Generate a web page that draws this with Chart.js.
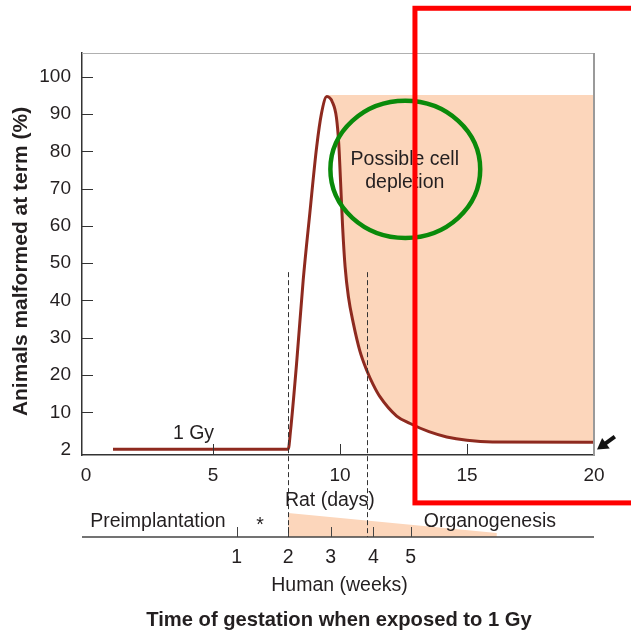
<!DOCTYPE html>
<html>
<head>
<meta charset="utf-8">
<script src="https://cdn.jsdelivr.net/npm/chart.js@4/dist/chart.umd.min.js"></script>
<style>
  html, body { margin: 0; padding: 0; background: #fff; }
  canvas { display: block; }
</style>
</head>
<body>
<canvas id="chart" width="631" height="632"></canvas>
<script>
// rat gestation day of exposure vs animals malformed at term
// (y is in axis steps; the bottom step carries the label "2")
const ratDays   = [1.06, 7.96, 8.05, 8.3, 8.55, 8.81, 9.08, 9.27, 9.48, 9.7, 9.86, 9.95, 10.02, 10.1, 10.2, 10.33, 10.52, 10.78, 11.05, 11.3, 11.57, 12.23, 12.76, 13.5, 14.2, 15.0, 16.0, 20.0];
const malformed = [0.1, 0.1, 5, 24, 45.5, 63.4, 81.2, 90.2, 94.7, 93.2, 89, 82, 72, 60, 49, 41, 34, 26.5, 21.3, 17.5, 14.2, 9.0, 7.0, 4.8, 3.4, 2.5, 2.05, 2.0];

// shaded "possible cell depletion" band, from the peak to the end
const depletionDays = [9.48, 20];
const depletionTop  = [95.1, 95.1];

const xTicks = [0, 5, 10, 15, 20];
const yTicks = [0, 10, 20, 30, 40, 50, 60, 70, 80, 90, 100];
const yTickLabels = ['2', '10', '20', '30', '40', '50', '60', '70', '80', '90', '100'];

// human weeks placed on the rat-day scale
const weekDays   = [5.93, 7.96, 9.63, 11.31, 12.78];
const weekLabels = ['1', '2', '3', '4', '5'];
const stageLines = [7.96, 11.05];   // dashed markers

const FONT = '"Liberation Sans", Arial, Helvetica, sans-serif';
const INK = '#231f20';
const PEACH = 'rgb(252, 214, 187)';
const CURVE = '#8e2a1f';

Chart.defaults.font.family = FONT;

const extras = {
  id: 'extras',
  afterDraw(chart) {
    const { ctx, chartArea: a, scales: { x, y } } = chart;
    const px = v => x.getPixelForValue(v);
    const py = v => y.getPixelForValue(v);
    const tlY = a.bottom + 82;   // human timeline

    ctx.save();

    // light frame top / right
    ctx.strokeStyle = '#b0b0b0';
    ctx.lineWidth = 1;
    ctx.beginPath();
    ctx.moveTo(a.left, a.top + 0.5);
    ctx.lineTo(a.right, a.top + 0.5);
    ctx.stroke();
    ctx.strokeStyle = '#9a9a9a';
    ctx.lineWidth = 2;
    ctx.beginPath();
    ctx.moveTo(a.right, a.top);
    ctx.lineTo(a.right, a.bottom);
    ctx.stroke();

    // inward ticks
    ctx.strokeStyle = '#333';
    ctx.lineWidth = 1;
    ctx.beginPath();
    yTicks.slice(1).forEach(v => {
      const yy = Math.round(py(v)) + 0.5;
      ctx.moveTo(a.left, yy);
      ctx.lineTo(a.left + 11, yy);
    });
    xTicks.slice(1, -1).forEach(v => {
      const xx = Math.round(px(v)) + 0.5;
      ctx.moveTo(xx, a.bottom);
      ctx.lineTo(xx, a.bottom - 11);
    });
    ctx.stroke();

    // organogenesis wedge under the timeline
    ctx.fillStyle = PEACH;
    ctx.beginPath();
    ctx.moveTo(px(7.96), tlY - 24);
    ctx.lineTo(px(16.17), tlY - 4);
    ctx.lineTo(px(16.17), tlY);
    ctx.lineTo(px(7.96), tlY);
    ctx.closePath();
    ctx.fill();

    // timeline axis and week ticks
    ctx.strokeStyle = '#444';
    ctx.lineWidth = 1.5;
    ctx.beginPath();
    ctx.moveTo(a.left, tlY);
    ctx.lineTo(a.right, tlY);
    ctx.stroke();
    ctx.lineWidth = 1;
    ctx.beginPath();
    weekDays.forEach(d => {
      const xx = Math.round(px(d)) + 0.5;
      ctx.moveTo(xx, tlY);
      ctx.lineTo(xx, tlY - 10);
    });
    ctx.stroke();

    // dashed stage markers
    ctx.setLineDash([5, 3]);
    ctx.strokeStyle = '#333';
    ctx.beginPath();
    stageLines.forEach(d => {
      const xx = Math.round(px(d)) + 0.5;
      ctx.moveTo(xx, py(47.6));
      ctx.lineTo(xx, tlY);
    });
    ctx.stroke();
    ctx.setLineDash([]);

    // texts
    ctx.fillStyle = INK;
    ctx.textBaseline = 'alphabetic';
    ctx.textAlign = 'center';
    ctx.font = '19.5px ' + FONT;
    ctx.fillText('1 Gy', px(4.23), py(0) - 11);
    ctx.fillText('Possible cell', px(12.55), 165);
    ctx.fillText('depletion', px(12.55), 188);
    ctx.fillText('Rat (days)', px(9.6), a.bottom + 51);
    ctx.fillText('Preimplantation', px(2.83), tlY - 10);
    ctx.fillText('*', px(6.85), tlY - 6);
    ctx.fillText('Organogenesis', px(15.9), tlY - 10);
    weekDays.forEach((d, i) => ctx.fillText(weekLabels[i], px(d), tlY + 26));
    ctx.fillText('Human (weeks)', px(9.98), tlY + 54);

    ctx.font = 'bold 20.2px ' + FONT;
    ctx.fillText('Time of gestation when exposed to 1 Gy', px(9.96), tlY + 89);
    ctx.font = 'bold 21px ' + FONT;
    ctx.save();
    ctx.translate(27, 261.5);
    ctx.rotate(-Math.PI / 2);
    ctx.fillText('Animals malformed at term (%)', 0, 0);
    ctx.restore();

    // arrow pointing at the end of the curve
    const tipX = px(20) + 3, tipY = py(0);
    const dx = -0.811, dy = 0.586;
    ctx.strokeStyle = '#111';
    ctx.fillStyle = '#111';
    ctx.lineWidth = 4;
    ctx.beginPath();
    ctx.moveTo(tipX - dx * 22, tipY - dy * 22);
    ctx.lineTo(tipX - dx * 8, tipY - dy * 8);
    ctx.stroke();
    ctx.beginPath();
    ctx.moveTo(tipX, tipY);
    ctx.lineTo(tipX - dx * 11 + dy * 6.5, tipY - dy * 11 - dx * 6.5);
    ctx.lineTo(tipX - dx * 11 - dy * 6.5, tipY - dy * 11 + dx * 6.5);
    ctx.closePath();
    ctx.fill();

    // green ellipse highlight
    const cx = px(12.57), cy = py(75.2);
    ctx.strokeStyle = '#0a8a0a';
    ctx.lineWidth = 4.5;
    ctx.beginPath();
    ctx.ellipse(cx, cy, px(12.57 + 2.95) - cx, py(75.2 - 18.4) - cy, 0, 0, Math.PI * 2);
    ctx.stroke();

    // red highlight box (runs off the right edge)
    ctx.strokeStyle = '#ff0000';
    ctx.lineWidth = 5;
    const rx = px(12.95), ry = py(118.4);
    ctx.strokeRect(rx, ry, 700 - rx, py(-14.3) - ry);

    ctx.restore();
  }
};

new Chart(document.getElementById('chart'), {
  type: 'line',
  data: {
    datasets: [
      {
        label: 'Malformed',
        data: ratDays.map((d, i) => ({ x: d, y: malformed[i] })),
        borderColor: CURVE,
        borderWidth: 3,
        pointRadius: 0,
        cubicInterpolationMode: 'monotone',
        fill: false
      },
      {
        label: 'Possible cell depletion',
        data: depletionDays.map((d, i) => ({ x: d, y: depletionTop[i] })),
        borderWidth: 0,
        borderColor: 'rgba(0,0,0,0)',
        pointRadius: 0,
        backgroundColor: PEACH,
        fill: 0
      }
    ]
  },
  options: {
    responsive: false,
    animation: false,
    devicePixelRatio: 1,
    layout: { padding: { left: 0, top: 53, right: 37, bottom: 137 } },
    plugins: { legend: { display: false }, tooltip: { enabled: false } },
    scales: {
      x: {
        type: 'linear',
        min: -0.16,
        max: 20,
        afterBuildTicks: s => { s.ticks = xTicks.map(v => ({ value: v })); },
        afterFit: s => { s.height = 40; },
        grid: { display: true, drawOnChartArea: false, drawTicks: false },
        border: { color: '#333', width: 1.5 },
        ticks: { color: INK, font: { size: 19 }, padding: 9, maxRotation: 0, autoSkip: false }
      },
      y: {
        type: 'linear',
        min: -1.45,
        max: 106.4,
        afterBuildTicks: s => { s.ticks = yTicks.map(v => ({ value: v })); },
        afterFit: s => { s.width = 82; },
        grid: { display: true, drawOnChartArea: false, drawTicks: false },
        border: { color: '#333', width: 1.5 },
        ticks: {
          color: INK,
          font: { size: 19 },
          padding: 11,
          autoSkip: false,
          callback: (v, i) => yTickLabels[i]
        }
      }
    }
  },
  plugins: [extras]
});
</script>
</body>
</html>
